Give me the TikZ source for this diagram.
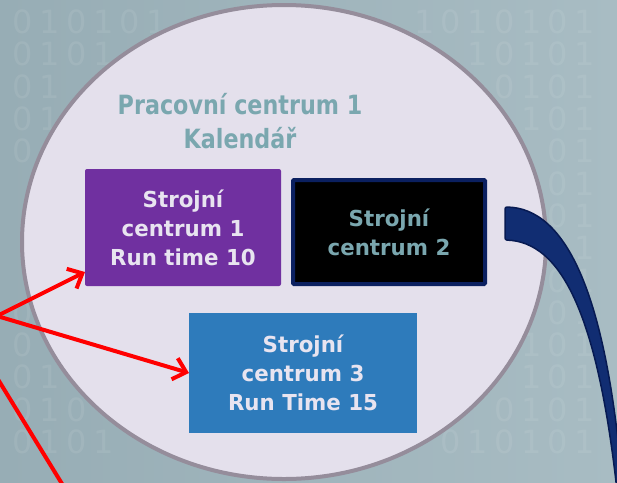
\documentclass[tikz,border=0pt]{standalone}
\usepackage{fontspec}
\setmainfont{DejaVu Sans}
\newfontfamily\titlefont{DejaVu Sans}[FakeStretch=0.84]
\newfontfamily\boxfont{DejaVu Sans}[FakeStretch=0.97]
\usetikzlibrary{arrows.meta}
\definecolor{bgL}{HTML}{97ADB5}
\definecolor{bgR}{HTML}{A8BCC3}
\definecolor{ellfill}{HTML}{E4E0EC}
\definecolor{elledge}{HTML}{958D9B}
\definecolor{titlecol}{HTML}{7AA7AF}
\definecolor{purplebox}{HTML}{7030A0}
\definecolor{bluebox}{HTML}{2E7BBB}
\definecolor{navyedge}{HTML}{0B2060}
\definecolor{boxtext}{HTML}{E8E4F0}
\definecolor{bandfill}{HTML}{112D72}
\definecolor{bandedge}{HTML}{071A52}
\definecolor{redline}{HTML}{FF0000}
\tikzset{
  digit/.style={font=\fontsize{32}{32}\selectfont, text=white, text opacity=0.08, inner sep=0pt},
  boxlabel/.style={font=\boxfont\bfseries\fontsize{22}{29}\selectfont, align=center, inner sep=0pt, outer sep=0pt},
  titlelabel/.style={font=\titlefont\bfseries\fontsize{26.5}{34.5}\selectfont, text=titlecol, align=center, inner sep=0pt},
  redarrow/.style={draw=redline, line width=4pt, -{Straight Barb[length=12pt,width=22pt]}},
  redlineonly/.style={draw=redline, line width=4pt}
}
\begin{document}
\begin{tikzpicture}[x=1pt,y=-1pt]
\useasboundingbox (0,0) rectangle (617,482);
\begin{scope}
\clip (0,0) rectangle (617,482);
% background
\shade[left color=bgL, right color=bgR] (-1,-1) rectangle (618,483);
% faint binary texture (only outside the work centre)
\foreach \r in {0,...,13}{
  \foreach \c in {0,...,21}{
    \pgfmathsetmacro\xx{23+26.75*\c}
    \pgfmathsetmacro\yy{22+32.3*\r}
    \pgfmathparse{((\xx-284)/270)^2+((\yy-242)/246)^2>1 ? 1 : 0}
    \ifnum\pgfmathresult=1
      \pgfmathtruncatemacro\dg{mod(\c,2)}
      \node[digit] (d-\r-\c) at (\xx,\yy) {\dg};
    \fi
  }
}
% work centre ellipse
\draw[fill=ellfill, draw=elledge, line width=4pt] (284,242) ellipse [x radius=262, y radius=237];
% navy curved band
\draw[fill=bandfill, draw=bandedge, line width=1.5pt, rounded corners=2pt]
  (505,207) .. controls (565,208) and (610,290) .. (625,520)
  -- (620,520) .. controls (600,310) and (560,242) .. (505,240) -- cycle;
% title
\node[titlelabel] (title) at (240,121) {Pracovní centrum 1\\Kalendář};
% boxes
\node[boxlabel, fill=purplebox, text=boxtext, rounded corners=2pt,
      minimum width=196pt, minimum height=117pt] (m1) at (183,227.5)
      {Strojní\\centrum 1\\Run time 10};
\node[boxlabel, fill=black, draw=navyedge, line width=4pt, text=titlecol, rounded corners=1pt,
      minimum width=192pt, minimum height=104pt] (m2) at (389,232)
      {Strojní\\centrum 2};
\node[boxlabel, fill=bluebox, text=boxtext,
      minimum width=228pt, minimum height=120pt] (m3) at (303,373)
      {Strojní\\centrum 3\\Run Time 15};
% red connectors
\coordinate (src) at (-3,316);
\coordinate (s2) at (-20,350);
\coordinate (e2) at (75,505);
\draw[redarrow] (src) -- ([yshift=14pt]m1.south west);
\draw[redarrow] (src) -- (m3.west);
\draw[redlineonly] (s2) -- (e2);
\end{scope}
\end{tikzpicture}
\end{document}
